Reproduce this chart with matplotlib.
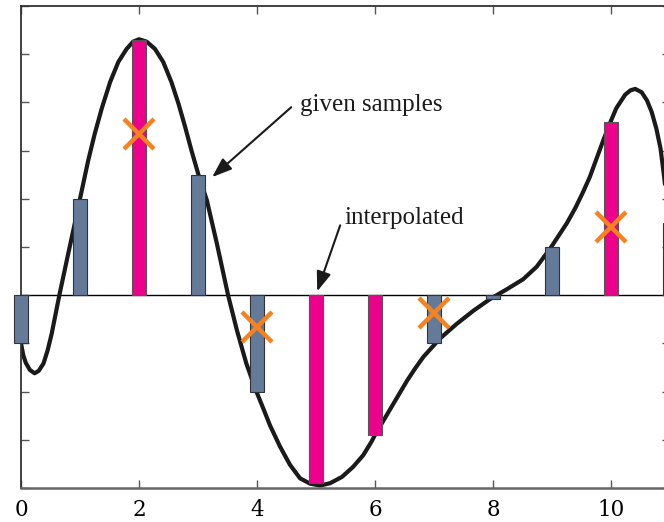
import matplotlib
matplotlib.use("Agg")
import matplotlib.pyplot as plt

# given samples (blue-grey bars)
given_x = [0, 1, 3, 4, 7, 8, 9, 11]
given_y = [-1.0, 2.0, 2.5, -2.0, -1.0, -0.07, 1.0, 1.5]

# interpolated samples (magenta bars)
interp_x = [2, 5, 6, 10]
interp_y = [5.3, -3.9, -2.9, 3.6]

# crosses
cross_x = [2, 4, 7, 10]
cross_y = [3.35, -0.66, -0.37, 1.42]

# continuous signal
curve_x = [0.00, 0.04, 0.08, 0.15, 0.23, 0.30, 0.38, 0.45, 0.52, 0.65, 0.80, 0.94,
           1.00, 1.14, 1.25, 1.37, 1.51, 1.65, 1.79, 1.90, 2.00, 2.13, 2.27, 2.41,
           2.55, 2.67, 2.78, 2.89, 3.01, 3.15, 3.32, 3.51, 3.66, 3.82, 3.98, 4.10,
           4.22, 4.39, 4.56, 4.73, 4.90, 5.07, 5.24, 5.44, 5.63, 5.80, 5.94, 6.00,
           6.25, 6.40, 6.54, 6.68, 6.82, 7.10, 7.38, 7.67, 7.95, 8.23, 8.51, 8.74,
           8.97, 9.25, 9.40, 9.53, 9.64, 9.76, 9.88, 10.00, 10.09, 10.24, 10.33, 10.41,
           10.52, 10.61, 10.69, 10.77, 10.84, 10.89, 10.93, 11.00]
curve_y = [-1.00, -1.25, -1.40, -1.55, -1.62, -1.57, -1.42, -1.15, -0.80, 0.00, 0.86, 1.65,
           2.00, 2.80, 3.35, 3.88, 4.42, 4.84, 5.11, 5.26, 5.31, 5.26, 5.11, 4.84,
           4.42, 3.97, 3.50, 3.00, 2.49, 1.97, 1.07, 0.00, -0.73, -1.42, -1.97, -2.33,
           -2.70, -3.14, -3.52, -3.80, -3.91, -3.95, -3.90, -3.77, -3.56, -3.32, -3.04, -2.90,
           -2.38, -2.07, -1.78, -1.52, -1.28, -0.90, -0.60, -0.32, -0.08, 0.12, 0.33, 0.59,
           0.97, 1.49, 1.82, 2.15, 2.45, 2.85, 3.25, 3.62, 3.88, 4.16, 4.25, 4.28,
           4.21, 4.04, 3.80, 3.45, 3.04, 2.56, 2.15, 1.50]

xticks = [0, 2, 4, 6, 8, 10]

fig = plt.figure(figsize=(6.64, 5.22), dpi=100)
ax = fig.add_axes([21 / 664, 34 / 522, 649 / 664, 482 / 522])

ax.axhline(0, color="black", lw=1.0, zorder=1)
ax.plot(curve_x, curve_y, color="#1a1a1a", lw=3.0, solid_joinstyle="round",
        solid_capstyle="round", zorder=2)

ax.bar(given_x, given_y, width=0.24, color="#647a98", edgecolor="#333333",
       linewidth=0.8, zorder=3, clip_on=False)
ax.bar(interp_x, interp_y, width=0.23, color="#ec008c", edgecolor="#555555",
       linewidth=0.8, zorder=3, clip_on=False)

ax.plot(cross_x, cross_y, linestyle="none", marker="x", ms=22, mew=3.2,
        color="#f5821f", zorder=4)

ax.annotate("", xy=(3.24, 2.45), xytext=(4.58, 3.90),
            arrowprops=dict(arrowstyle="-|>,head_length=0.6,head_width=0.22",
                            mutation_scale=20, color="#1a1a1a", lw=1.5,
                            shrinkA=0, shrinkB=0))
ax.text(4.73, 3.94, "given samples", ha="left", va="center",
        fontsize=18, family="Liberation Serif", color="#1a1a1a")

ax.annotate("", xy=(5.02, 0.08), xytext=(5.41, 1.45),
            arrowprops=dict(arrowstyle="-|>,head_length=0.6,head_width=0.22",
                            mutation_scale=20, color="#1a1a1a", lw=1.5,
                            shrinkA=0, shrinkB=0))
ax.text(5.49, 1.60, "interpolated", ha="left", va="center",
        fontsize=18, family="Liberation Serif", color="#1a1a1a")

ax.set_xlim(0, 11)
ax.set_ylim(-4, 6)
ax.set_xticks(xticks)
ax.set_xticklabels([str(t) for t in xticks], family="DejaVu Serif")
ax.set_yticks(range(-4, 7))
ax.set_yticklabels([])
ax.tick_params(direction="in", length=6, width=1.0, color="#555555",
               top=True, right=True, labelsize=15.5, pad=8)
for s in ax.spines.values():
    s.set_color("#333333")
    s.set_linewidth(1.3)
ax.spines["bottom"].set_color("#666666")
ax.spines["bottom"].set_linewidth(1.8)

fig.savefig("out.png", dpi=100)
